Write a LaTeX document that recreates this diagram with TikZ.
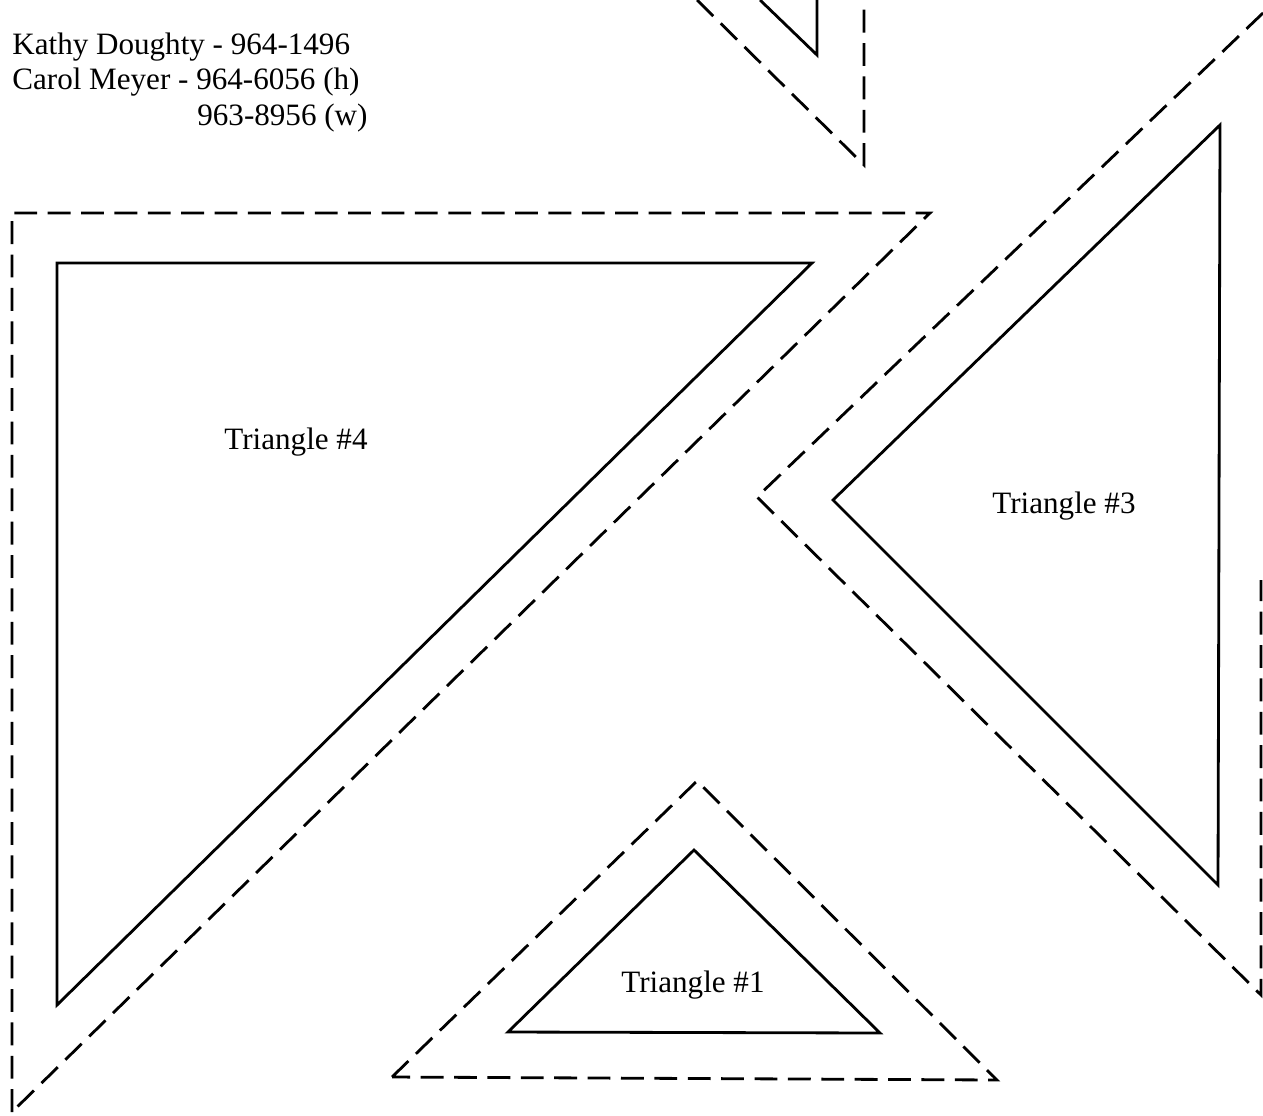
\documentclass[tikz,border=0pt]{standalone}
\usepackage{fontspec}
\setmainfont{Liberation Serif}

\tikzset{
  cutline/.style={line width=1.6pt},
  seamline/.style={line width=1.6pt, dash pattern=on 13pt off 6pt},
  label/.style={font=\fontsize{17.7}{21}\selectfont, inner sep=0pt}
}

\begin{document}
\begin{tikzpicture}[x=0.02cm, y=-0.02cm]

\useasboundingbox (0,0) rectangle (1263,1115);
\clip (0,0) rectangle (1263,1115);

% names and numbers
\node[label, anchor=base west] (kathy) at (12,55) {Kathy Doughty - 964-1496};
\node[label, anchor=base west] (carol) at (12,90) {Carol Meyer - 964-6056 (h)};
\node[label, anchor=base west] (work) at (197,125) {963-8956 (w)};

% top piece (cut off)
\draw[cutline] (760,0) -- (817,55) -- (817,0);
\draw[seamline] (697,0) -- (864,165) -- (864,0);

% triangle 4
\draw[seamline] (12,1112) -- (12,213) -- (930,213) -- cycle;
\draw[cutline] (57,1005) -- (57,263) -- (812,263) -- cycle;
\node[label] (t4) at (296,442) {Triangle \#4};

% triangle 3
\draw[seamline] (1263,13) -- (757,497) -- (1261,995) -- (1261,580);
\draw[cutline] (1220,125) -- (833,500) -- (1218,885) -- cycle;
\node[label] (t3) at (1064,506) {Triangle \#3};

% triangle 1
\draw[seamline] (392,1077) -- (697,781) -- (997,1080) -- cycle;
\draw[cutline] (508,1032) -- (694,850) -- (880,1033) -- cycle;
\node[label] (t1) at (693,985) {Triangle \#1};

\end{tikzpicture}
\end{document}
